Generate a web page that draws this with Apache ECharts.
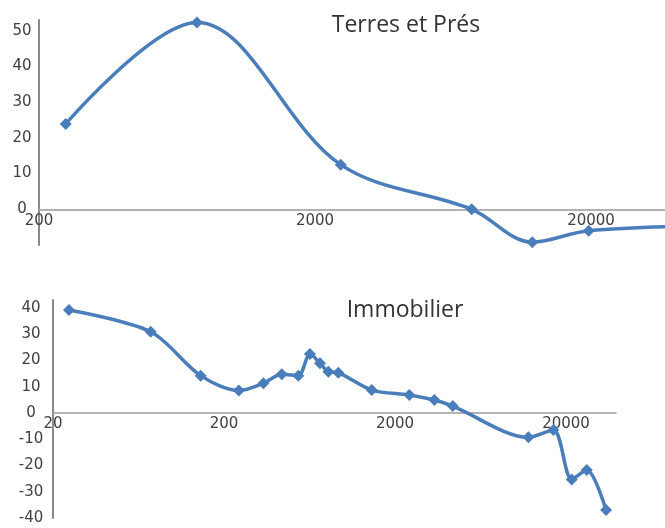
<!DOCTYPE html>
<html>
<head>
<meta charset="utf-8">
<script src="https://cdn.jsdelivr.net/npm/echarts@6/dist/echarts.min.js"></script>
<style>html,body{margin:0;padding:0;background:#fff}#c{width:665px;height:528px}</style>
</head>
<body>
<div id="c"></div>
<script>
// ---- Data ----
const titleTop = "Terres et Prés";
const titleBottom = "Immobilier";

const topX = [250, 747, 2478, 7393, 12260, 19620, 58600];
const topY = [23.9, 52.3, 12.5, 0, -9.2, -6.0, -4.6];

const botX = [24.8, 74.5, 146, 244, 340, 435, 544, 636, 728, 815, 932, 1462, 2424, 3396, 4350, 12040, 16860, 21600, 26420, 34270];
const botY = [39.2, 30.9, 14.2, 8.5, 11.3, 14.7, 14.2, 22.4, 18.9, 15.7, 15.3, 8.7, 6.8, 4.9, 2.6, -9.3, -6.5, -25.3, -21.7, -37.0];

const topXTicks = [200, 2000, 20000];
const botXTicks = [20, 200, 2000, 20000];
const topYTicks = [0, 10, 20, 30, 40, 50];
const botYTicks = [-40, -30, -20, -10, 0, 10, 20, 30, 40];

// ---- Chart ----
const FONT = "'DejaVu Sans', 'Open Sans', sans-serif";
const TFONT = "'Open Sans', 'Noto Sans', sans-serif";
const BLUE = '#4A7EBB';
const pairs = (xs, ys) => xs.map((x, i) => [x, ys[i]]);

// grid geometry
const g1 = {top: 20, height: 225, min: -10, max: 53};
const g2 = {top: 300, height: 218, min: -40, max: 43};
const zeroOffset = g => -(g.height * (0 - g.min) / (g.max - g.min));

const chart = echarts.init(document.getElementById('c'), null, {renderer: 'canvas'});
const yLabel = (ticks, margin) => ({
  color: '#404040', fontFamily: FONT, fontSize: 15, margin: margin, align: 'center',
  formatter: v => (ticks.includes(Math.round(v)) && Math.abs(v - Math.round(v)) < 1e-6) ? String(Math.round(v)) : ''
});
const xLabel = (ticks) => ({
  customValues: ticks, color: '#404040', fontFamily: FONT, fontSize: 15, margin: 4,
  formatter: v => String(Math.round(v))
});

chart.setOption({
  animation: false,
  title: [
    {text: titleTop, left: 401, top: 9, textAlign: 'center',
     textStyle: {fontFamily: TFONT, fontSize: 23, fontWeight: 'normal', color: '#333'}},
    {text: titleBottom, left: 400, top: 294, textAlign: 'center',
     textStyle: {fontFamily: TFONT, fontSize: 23, fontWeight: 'normal', color: '#333'}}
  ],
  grid: [
    {left: 39, right: 0, top: g1.top, height: g1.height, containLabel: false, outerBoundsMode: 'none'},
    {left: 53, right: 49, top: g2.top, height: g2.height, containLabel: false, outerBoundsMode: 'none'}
  ],
  xAxis: [
    {type: 'log', gridIndex: 0, min: 200, max: 37080, logBase: 10, position: 'bottom',
     offset: zeroOffset(g1),
     axisLine: {onZero: false, lineStyle: {color: '#999', width: 1.5}},
     axisTick: {show: false}, splitLine: {show: false}, minorTick: {show: false},
     axisLabel: xLabel(topXTicks)},
    {type: 'log', gridIndex: 1, min: 20, max: 39180, logBase: 10, position: 'bottom',
     offset: zeroOffset(g2),
     axisLine: {onZero: false, lineStyle: {color: '#999', width: 1.5}},
     axisTick: {show: false}, splitLine: {show: false}, minorTick: {show: false},
     axisLabel: xLabel(botXTicks)}
  ],
  yAxis: [
    {type: 'value', gridIndex: 0, min: g1.min, max: g1.max, interval: 10,
     axisLine: {show: true, lineStyle: {color: '#8a8a8a', width: 2}},
     axisTick: {show: false}, splitLine: {show: false},
     axisLabel: yLabel(topYTicks, 17)},
    {type: 'value', gridIndex: 1, min: g2.min, max: g2.max, interval: 10,
     axisLine: {show: true, lineStyle: {color: '#8a8a8a', width: 2}},
     axisTick: {show: false}, splitLine: {show: false},
     axisLabel: yLabel(botYTicks, 22)}
  ],
  series: [
    {type: 'line', xAxisIndex: 0, yAxisIndex: 0, data: pairs(topX, topY), smooth: 0.35,
     clip: true, symbol: 'diamond', symbolSize: 12,
     lineStyle: {color: BLUE, width: 3.5}, itemStyle: {color: BLUE}},
    {type: 'line', xAxisIndex: 1, yAxisIndex: 1, data: pairs(botX, botY), smooth: 0.3,
     clip: false, symbol: 'diamond', symbolSize: 12,
     lineStyle: {color: BLUE, width: 3.5}, itemStyle: {color: BLUE}}
  ]
});
</script>
</body>
</html>
